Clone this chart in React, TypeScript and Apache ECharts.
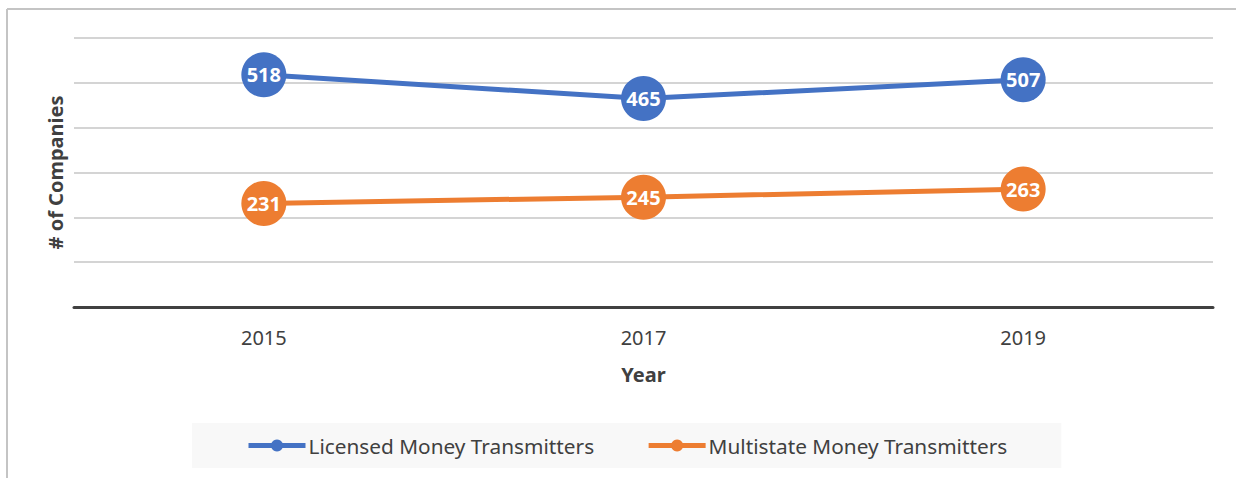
import React, { useEffect, useRef } from "react";
import * as echarts from "echarts";

const years = ["2015", "2017", "2019"];
const licensed = [518, 465, 507];
const multistate = [231, 245, 263];
const seriesNames = ["Licensed Money Transmitters", "Multistate Money Transmitters"];
const FONT = "'Noto Sans', sans-serif";

export default function App() {
  const ref = useRef<HTMLDivElement>(null);
  useEffect(() => {
    if (!ref.current) return;
    const chart = echarts.init(ref.current, undefined, { renderer: "svg" });
    const label = {
      show: true,
      position: "inside",
      color: "#ffffff",
      fontWeight: "bold",
      fontSize: 20,
      fontFamily: FONT,
    };
    chart.setOption({
      animation: false,
      backgroundColor: "#ffffff",
      textStyle: { fontFamily: FONT },
      graphic: [
        { type: "line", shape: { x1: 7, y1: 9, x2: 1236, y2: 9 }, style: { stroke: "#c4c4c4", lineWidth: 2 }, silent: true },
        { type: "line", shape: { x1: 7, y1: 9, x2: 7, y2: 478 }, style: { stroke: "#c4c4c4", lineWidth: 2 }, silent: true },
      ],
      grid: { left: 74, right: 23, top: 38, bottom: 171, containLabel: false },
      legend: {
        bottom: 10,
        left: 192,
        backgroundColor: "#f8f8f8",
        padding: [12, 54, 12, 54],
        itemWidth: 57,
        itemHeight: 15,
        itemGap: 52,
        lineStyle: { width: 5 },
        textStyle: { fontSize: 20.8, color: "#404040", fontFamily: FONT, padding: [0, 0, 0, -2] },
        data: seriesNames,
      },
      xAxis: {
        type: "category",
        data: years,
        boundaryGap: true,
        axisLine: { show: true, lineStyle: { color: "#404040", width: 3 } },
        axisTick: { show: false },
        axisLabel: { color: "#404040", fontSize: 20, margin: 20, fontFamily: FONT },
        name: "Year",
        nameLocation: "middle",
        nameGap: 57,
        nameTextStyle: { color: "#404040", fontSize: 20, fontWeight: "bold", fontFamily: FONT },
      },
      yAxis: {
        type: "value",
        min: 0,
        max: 600,
        interval: 100,
        axisLine: { show: false },
        axisTick: { show: false },
        axisLabel: { show: false },
        splitLine: { lineStyle: { color: "#d4d4d4", width: 2 } },
        name: "# of Companies",
        nameLocation: "middle",
        nameGap: 9,
        nameTextStyle: { color: "#404040", fontSize: 20, fontWeight: "bold", fontFamily: FONT },
      },
      series: [
        {
          name: seriesNames[0],
          type: "line",
          data: licensed,
          symbol: "circle",
          symbolSize: 45,
          color: "#4472c4",
          lineStyle: { width: 5, color: "#4472c4" },
          itemStyle: { color: "#4472c4" },
          label,
        },
        {
          name: seriesNames[1],
          type: "line",
          data: multistate,
          symbol: "circle",
          symbolSize: 45,
          color: "#ed7d31",
          lineStyle: { width: 5, color: "#ed7d31" },
          itemStyle: { color: "#ed7d31" },
          label,
        },
      ],
    });
    return () => chart.dispose();
  }, []);
  return (
    <div
      ref={ref}
      style={{ position: "absolute", left: 0, top: 0, width: 1236, height: 478 }}
    />
  );
}
